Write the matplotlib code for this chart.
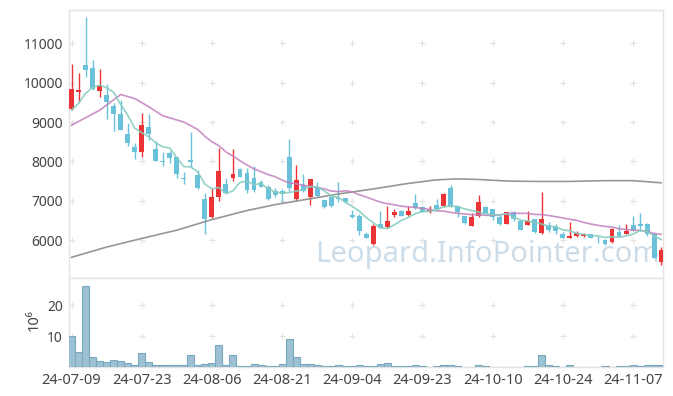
""" Candlestick chart with moving averages and volume panel """
import matplotlib
matplotlib.use("Agg")
import matplotlib.pyplot as plt
import numpy as np
import pandas as pd

tick_labels = ["24-07-09", "24-07-23", "24-08-06", "24-08-21", "24-09-04",
               "24-09-23", "24-10-10", "24-10-24", "24-11-07"]
tick_pos = [0, 10, 20, 30, 40, 50, 60, 70, 80]

opens = [9340, 9760, 10450, 10370, 9800, 9700, 9420, 9200, 8690, 8365,
         8240, 8870, 8315, 8000, 8220, 8100, 7575, 8025, 7660, 7035,
         6576, 7100, 7425, 7585, 7805, 7700, 7570, 7475, 7355, 7255,
         7240, 8110, 7045, 7400, 7085, 7360, 7017, 7085, 7050, 7060,
         6640, 6615, 6160, 5905, 6400, 6335, 6640, 6745, 6640, 6940,
         6830, 6720, 6890, 6865, 7325, 6865, 6600, 6360, 6605, 6845,
         6778, 6590, 6420, 6700, 6487, 6385, 6530, 6188, 6385, 6333,
         6145, 6060, 6094, 6103, 6145, 6050, 5990, 5957, 6205, 6162,
         6385, 6420, 6420, 6160, 5436]
highs = [10480, 10240, 11660, 10590, 10340, 9980, 9475, 9560, 8970, 8460,
         9220, 9195, 8525, 8245, 8270, 8120, 7740, 8760, 7780, 7185,
         7315, 8330, 7570, 8305, 7820, 7820, 7880, 7525, 7400, 7315,
         7300, 8580, 7915, 7685, 7540, 7470, 7030, 7145, 7470, 7070,
         6760, 6660, 6205, 6400, 6745, 6865, 6785, 6760, 6865, 7170,
         6865, 6865, 7045, 7190, 7410, 6865, 6610, 6675, 7145, 6860,
         6780, 6660, 6720, 6726, 6490, 6744, 6547, 7230, 6470, 6400,
         6205, 6460, 6230, 6188, 6165, 6094, 6017, 6316, 6385, 6400,
         6615, 6675, 6445, 6188, 5830]
lows = [9300, 9520, 10150, 9810, 9640, 9070, 8780, 8790, 8400, 8050,
        8100, 8540, 8000, 7880, 7950, 7570, 7415, 7865, 7290, 6145,
        6550, 7000, 7185, 7510, 7600, 7200, 7230, 7340, 7015, 7100,
        6960, 7240, 7000, 7215, 6890, 7125, 6820, 6845, 6955, 6950,
        6555, 6130, 6055, 5870, 6310, 6315, 6590, 6610, 6615, 6785,
        6700, 6690, 6760, 6830, 6845, 6575, 6420, 6350, 6575, 6650,
        6515, 6385, 6400, 6487, 6250, 6376, 6188, 6162, 6205, 6145,
        6043, 6043, 6077, 6077, 6050, 5930, 5863, 5923, 6077, 6145,
        6230, 6230, 6100, 5530, 5376]
closes = [9830, 9810, 10320, 9830, 9915, 9500, 9210, 8800, 8475, 8250,
          8915, 8700, 8010, 7985, 8085, 7690, 7560, 7985, 7330, 6540,
          7085, 7750, 7205, 7680, 7610, 7270, 7270, 7355, 7040, 7155,
          7170, 7325, 7515, 7240, 7540, 7130, 6830, 6870, 7040, 6960,
          6575, 6230, 6060, 6360, 6315, 6485, 6720, 6615, 6745, 6810,
          6725, 6760, 6780, 7170, 6865, 6700, 6435, 6575, 6975, 6660,
          6573, 6420, 6718, 6547, 6256, 6487, 6205, 6530, 6256, 6231,
          6060, 6100, 6188, 6145, 6060, 6040, 5890, 6273, 6094, 6230,
          6256, 6360, 6145, 5547, 5744]
# volume in millions
volumes = [10.0, 4.8, 26.1, 3.2, 2.0, 1.6, 2.4, 1.9, 1.3, 0.65,
           4.5, 1.6, 0.65, 0.6, 0.6, 0.6, 0.6, 3.9, 0.65, 1.0,
           1.3, 7.1, 0.65, 3.9, 0.3, 0.3, 1.0, 0.6, 0.3, 0.3,
           1.0, 9.0, 3.2, 1.0, 1.0, 0.65, 0.3, 0.3, 0.65, 0.3,
           0.3, 0.65, 0.3, 0.3, 1.0, 1.4, 0.3, 0.3, 0.3, 0.65,
           0.3, 0.05, 0.3, 0.65, 0.65, 0.3, 0.05, 0.05, 0.65, 0.3,
           0.05, 0.05, 0.05, 0.05, 0.05, 0.3, 0.3, 3.9, 0.65, 0.3,
           0.05, 0.65, 0.05, 0.05, 0.05, 0.05, 0.3, 0.05, 0.3, 0.3,
           0.65, 0.3, 0.65, 0.65, 0.65]

# moving averages before enough days are in the window
ma5_head = [9305, 9475, 9730, 9880]
ma20_head_x = [0, 4, 7, 9, 11, 13, 16, 18]
ma20_head = [8920, 9300, 9700, 9600, 9390, 9160, 9000, 8810]
# long moving average
ma120_x = [0, 5, 10, 15, 20, 25, 29, 33, 38, 43, 48, 52, 55, 58, 62, 66, 71, 76, 80, 84]
ma120 = [5560, 5820, 6040, 6250, 6520, 6750, 6900, 7020, 7170, 7300,
         7440, 7530, 7555, 7540, 7500, 7490, 7490, 7510, 7510, 7455]

df = pd.DataFrame({"open": opens, "high": highs, "low": lows, "close": closes, "vol": volumes})
df["ma5"] = df["close"].rolling(5).mean()
df["ma20"] = df["close"].rolling(20).mean()
idx = np.arange(len(df))

ma5_line = np.concatenate([ma5_head, df["ma5"].values[4:]])
ma20_x = np.concatenate([ma20_head_x, idx[19:]])
ma20_line = np.concatenate([ma20_head, df["ma20"].values[19:]])

RED = "#ec3436"
BLUE = "#69c2d9"
FRAME = "#e3e3e3"
TXT = "#444444"

plt.rcParams["font.family"] = ["Noto Sans", "DejaVu Sans"]

fig = plt.figure(figsize=(6.73, 3.96), dpi=100)
ax = fig.add_axes([0.1025, 0.298, 0.8826, 0.6767])
axv = fig.add_axes([0.1025, 0.0732, 0.8826, 0.2248])

up = df["close"] >= df["open"]
colors = np.where(up, RED, BLUE)
body_lo = np.minimum(df["open"], df["close"])
body_h = np.maximum(np.abs(df["close"] - df["open"]), 22)

ax.vlines(idx, df["low"], df["high"], colors=colors, linewidth=1, zorder=3)
ax.bar(idx, body_h, bottom=body_lo, width=0.7, color=colors, linewidth=0, zorder=4)

ax.plot(ma120_x, ma120, color="#8c8c8c", linewidth=1.2, alpha=0.9, zorder=5)
ax.plot(ma20_x, ma20_line, color="#c47fbe", linewidth=1.2, alpha=0.85, zorder=5)
ax.plot(idx, ma5_line, color="#86cdc0", linewidth=1.2, alpha=0.9, zorder=5)

ax.text(0.414, 0.06, "Leopard.InfoPointer.com", transform=ax.transAxes,
        fontsize=21, color="#c4d8e6", alpha=0.85, ha="left", va="baseline", zorder=2)

yt = [6000, 7000, 8000, 9000, 10000, 11000]
gx, gy = np.meshgrid(tick_pos, yt)
ax.plot(gx.ravel(), gy.ravel(), "+", color="#e2e2e2", markersize=5, markeredgewidth=0.8, zorder=1)

ax.set_xlim(-0.36, 84.26)
ax.set_ylim(5034, 11850)
ax.set_yticks(yt)
ax.set_yticklabels([str(v) for v in yt])
ax.set_xticks([])

axv.bar(idx, df["vol"], width=1.0, color="#9bc1d2", edgecolor="#7aa9bf", linewidth=0.8, zorder=3)
vt = [10, 20]
gx, gy = np.meshgrid(tick_pos, vt)
axv.plot(gx.ravel(), gy.ravel(), "+", color="#e2e2e2", markersize=5, markeredgewidth=0.8, zorder=1)
axv.set_xlim(-0.36, 84.26)
axv.set_ylim(0, 28.8)
axv.set_yticks(vt)
axv.set_xticks(tick_pos)
axv.set_xticklabels(tick_labels)

for a in (ax, axv):
    for s in a.spines.values():
        s.set_color(FRAME)
        s.set_linewidth(1)
    a.tick_params(length=0, labelsize=10, colors=TXT, pad=4.5)
axv.tick_params(axis="x", labelsize=10.5, pad=4)

fig.text(34 / 673, 1 - 320 / 396, "10\u2076", rotation=90, ha="center", va="center",
         fontsize=10.5, color=TXT)

fig.savefig("out.png", dpi=100)
